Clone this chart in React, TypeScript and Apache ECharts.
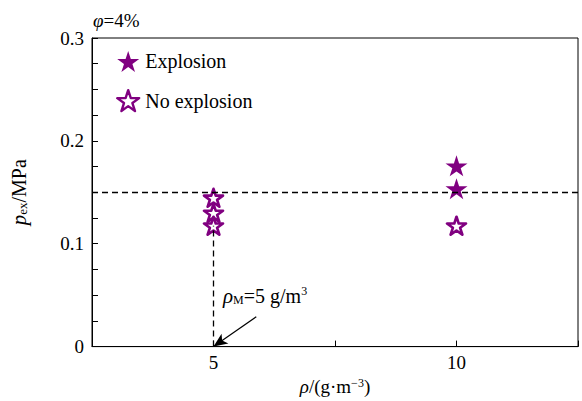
import React, { useEffect, useRef } from "react";
import * as echarts from "echarts";

const explosionPoints: [number, number][] = [
  [10, 0.1757],
  [10, 0.1534],
];
const noExplosionPoints: [number, number][] = [
  [5, 0.1447],
  [5, 0.13],
  [5, 0.1175],
  [10, 0.1175],
];
const thresholdP = 0.15;
const minDensity = 5;
const arrowStart: [number, number] = [5.88, 0.029];
const xTickLabels = [5, 10];
const yTickLabels = [0, 0.1, 0.2, 0.3];

const STAR =
  "path://M50,0L61.23,34.55L97.55,34.55L68.17,55.9L79.39,90.45L50,69.1L20.61,90.45L31.83,55.9L2.45,34.55L38.77,34.55Z";
const PURPLE = "#800080";
const FONT = "'Liberation Serif', 'DejaVu Serif', serif";

export default function App() {
  const ref = useRef<HTMLDivElement>(null);
  useEffect(() => {
    document.body.style.margin = "0";
    if (!ref.current) return;
    const chart = echarts.init(ref.current, undefined, { renderer: "svg" });
    chart.setOption({
      animation: false,
      backgroundColor: "#fff",
      textStyle: { fontFamily: FONT },
      grid: {
        left: 90,
        right: 4,
        top: 38,
        bottom: 54,
        show: true,
        borderColor: "#000",
        borderWidth: 1,
        backgroundColor: "transparent",
      },
      legend: {
        orient: "vertical",
        left: 116,
        top: 51,
        padding: 0,
        itemWidth: 22,
        itemHeight: 21,
        itemGap: 17,
        textStyle: { fontFamily: FONT, fontSize: 20, color: "#000", padding: [0, 0, 0, 1] },
        data: [
          { name: "Explosion", icon: STAR },
          {
            name: "No explosion",
            icon: STAR,
            itemStyle: { color: "#fff", borderColor: PURPLE, borderWidth: 2.4, borderJoin: "round" },
          },
        ],
      },
      xAxis: {
        type: "value",
        min: 2.5,
        max: 12.5,
        interval: 2.5,
        axisLine: { show: true, lineStyle: { color: "#000", width: 1 } },
        axisTick: { show: true, inside: true, length: 6, lineStyle: { color: "#000" } },
        splitLine: { show: false },
        axisLabel: {
          color: "#000",
          fontFamily: FONT,
          fontSize: 19,
          margin: 6,
          formatter: (v: number) =>
            xTickLabels.some((t) => Math.abs(t - v) < 1e-6) ? String(v) : "",
        },
        name: "{i|ρ}/(g·m{sup|−3})",
        nameLocation: "middle",
        nameGap: 26,
        nameTextStyle: {
          color: "#000",
          fontFamily: FONT,
          fontSize: 19,
          rich: {
            i: { fontStyle: "italic", fontFamily: FONT, fontSize: 19, color: "#000" },
            sup: { fontSize: 12, fontFamily: FONT, verticalAlign: "top", color: "#000", padding: [0, 0, 8, 0] },
          },
        },
      },
      yAxis: {
        type: "value",
        min: 0,
        max: 0.3,
        interval: 0.025,
        axisLine: { show: true, lineStyle: { color: "#000", width: 1 } },
        axisTick: { show: true, inside: true, length: 6, lineStyle: { color: "#000" } },
        splitLine: { show: false },
        axisLabel: {
          color: "#000",
          fontFamily: FONT,
          fontSize: 19,
          margin: 8,
          formatter: (v: number) => {
            const t = yTickLabels.find((x) => Math.abs(x - v) < 1e-6);
            return t === undefined ? "" : t === 0 ? "0" : t.toFixed(1);
          },
        },
        name: "{i|p}{sub|ex}/MPa",
        nameLocation: "middle",
        nameGap: 63,
        nameRotate: 90,
        nameTextStyle: {
          color: "#000",
          fontFamily: FONT,
          fontSize: 20,
          rich: {
            i: { fontStyle: "italic", fontFamily: FONT, fontSize: 21, color: "#000" },
            sub: { fontSize: 13, fontFamily: FONT, verticalAlign: "bottom", color: "#000", padding: [7, 0, 0, 0] },
          },
        },
      },
      series: [
        {
          name: "guides",
          type: "line",
          data: [],
          z: 1,
          markLine: {
            silent: true,
            animation: false,
            symbol: ["none", "none"],
            label: { show: false },
            data: [
              [
                { coord: [2.5, thresholdP], lineStyle: { type: [6, 4], color: "#000", width: 1.3 } },
                { coord: [12.5, thresholdP] },
              ],
              [
                { coord: [minDensity, 0], lineStyle: { type: [6, 4], color: "#000", width: 1.3 } },
                { coord: [minDensity, noExplosionPoints[2][1]] },
              ],
              [
                {
                  coord: arrowStart,
                  symbol: "none",
                  lineStyle: { type: "solid", color: "#000", width: 1.2 },
                },
                { coord: [minDensity, 0], symbol: "arrow", symbolSize: [9, 14] },
              ],
            ],
          },
        },
        {
          name: "Explosion",
          type: "scatter",
          z: 3,
          symbol: STAR,
          symbolSize: [22, 21],
          itemStyle: { color: PURPLE, opacity: 1 },
          data: explosionPoints,
        },
        {
          name: "No explosion",
          type: "scatter",
          z: 3,
          symbol: STAR,
          symbolSize: [19, 18],
          itemStyle: {
            color: "#fff",
            borderColor: PURPLE,
            borderWidth: 2.6,
            borderJoin: "round",
            opacity: 1,
          },
          data: noExplosionPoints,
        },
      ],
      graphic: [
        {
          type: "text",
          left: 93,
          top: 11,
          style: {
            text: "{i|φ}=4%",
            fontFamily: FONT,
            fontSize: 19,
            fill: "#000",
            rich: { i: { fontStyle: "italic", fontFamily: FONT, fontSize: 19, fill: "#000" } },
          },
        },
        {
          type: "text",
          left: 223,
          top: 285,
          style: {
            text: "{i|ρ}{sub|M}=5 g/m{sup|3}",
            fontFamily: FONT,
            fontSize: 20,
            fill: "#000",
            rich: {
              i: { fontStyle: "italic", fontFamily: FONT, fontSize: 21, fill: "#000" },
              sub: { fontSize: 12, fontFamily: FONT, verticalAlign: "bottom", fill: "#000", padding: [8, 0, 0, 0] },
              sup: { fontSize: 12, fontFamily: FONT, verticalAlign: "top", fill: "#000", padding: [0, 0, 8, 0] },
            },
          },
        },
      ],
    });
    return () => chart.dispose();
  }, []);
  return <div ref={ref} style={{ width: 582, height: 401 }} />;
}
